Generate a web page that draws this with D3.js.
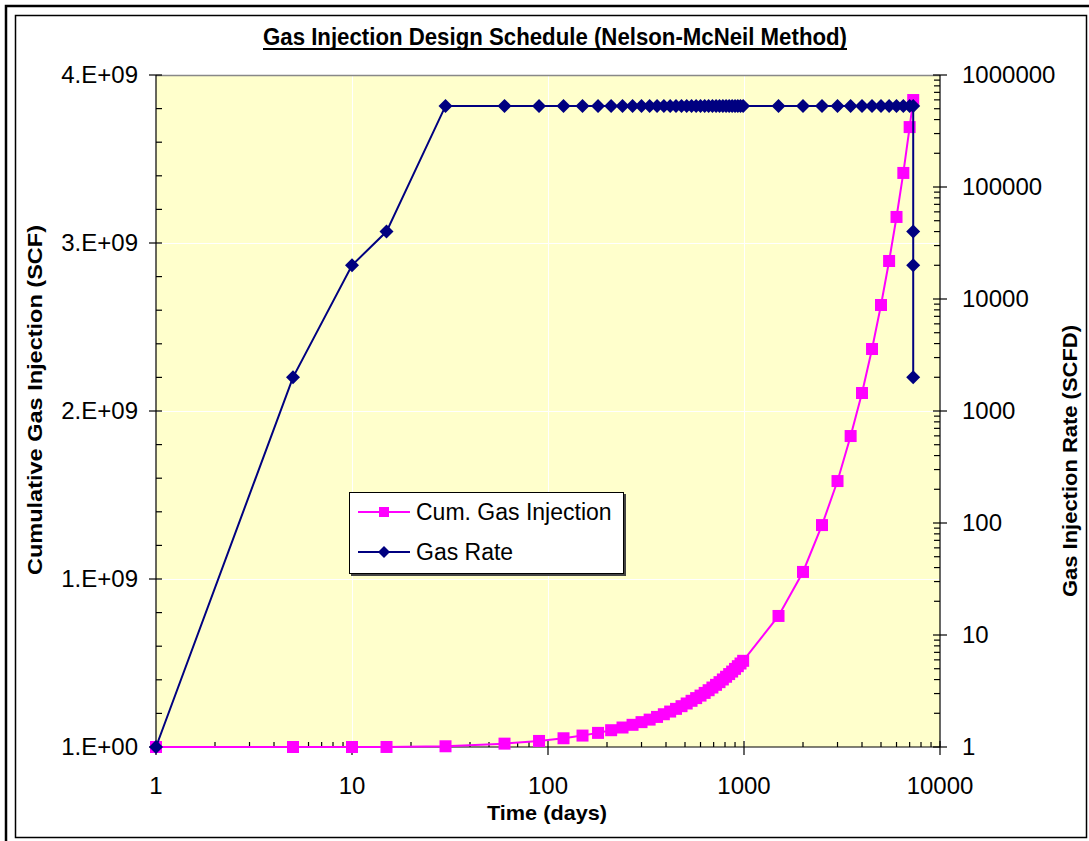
<!DOCTYPE html>
<html>
<head>
<meta charset="utf-8">
<script src="https://cdn.jsdelivr.net/npm/d3@7"></script>
<style>
  body { margin: 0; background: #fff; }
  svg { display: block; font-family: "Liberation Sans", Arial, sans-serif; }
</style>
</head>
<body>
<div class="canvas"></div>
<script>
// time (days) for the cumulative series
const cumTimes = [1, 5, 10, 15, 30, 60, 90, 120, 150, 180, 210, 240, 270, 300, 330, 360, 390, 420, 450,
  480, 510, 540, 570, 600, 630, 660, 690, 720, 750, 780, 810, 840, 870, 900, 930, 960, 990,
  1500, 2000, 2500, 3000, 3500, 4000, 4500, 5000, 5500, 6000, 6500, 7000, 7300];
// cumulative gas injection (SCF)
const cumGas = [1, 4000, 59000, 210000, 4.3e6, 2.0e7, 3.6e7, 5.2e7, 6.8e7, 8.4e7, 1.00e8, 1.16e8, 1.32e8,
  1.48e8, 1.63e8, 1.79e8, 1.95e8, 2.11e8, 2.27e8, 2.43e8, 2.59e8, 2.75e8, 2.91e8, 3.06e8, 3.22e8,
  3.38e8, 3.54e8, 3.70e8, 3.86e8, 4.02e8, 4.18e8, 4.34e8, 4.49e8, 4.65e8, 4.81e8, 4.97e8, 5.13e8,
  7.80e8, 1.042e9, 1.321e9, 1.583e9, 1.851e9, 2.107e9, 2.369e9, 2.631e9, 2.893e9, 3.155e9, 3.417e9,
  3.690e9, 3.851e9];

// time (days) for the rate series (ramp down at the end)
const rateTimes = [1, 5, 10, 15, 30, 60, 90, 120, 150, 180, 210, 240, 270, 300, 330, 360, 390, 420, 450,
  480, 510, 540, 570, 600, 630, 660, 690, 720, 750, 780, 810, 840, 870, 900, 930, 960, 990,
  1500, 2000, 2500, 3000, 3500, 4000, 4500, 5000, 5500, 6000, 6500, 7000, 7300, 7300, 7300, 7300];
// gas injection rate (SCFD)
const gasRate = [1, 2000, 20000, 40000, 530000, 530000, 530000, 530000, 530000, 530000, 530000, 530000,
  530000, 530000, 530000, 530000, 530000, 530000, 530000, 530000, 530000, 530000, 530000, 530000,
  530000, 530000, 530000, 530000, 530000, 530000, 530000, 530000, 530000, 530000, 530000, 530000,
  530000, 530000, 530000, 530000, 530000, 530000, 530000, 530000, 530000, 530000, 530000, 530000,
  530000, 530000, 40000, 20000, 2000];

const xTicks = [1, 10, 100, 1000, 10000];
const leftTicks = [1, 1e9, 2e9, 3e9, 4e9];
const rightTicks = [1, 10, 100, 1000, 10000, 100000, 1000000];
const seriesNames = ['Cum. Gas Injection', 'Gas Rate'];

const W = 1089, H = 841;
const plot = { left: 156, right: 940, top: 75, bottom: 747 };

const svg = d3.select('.canvas').append('svg')
  .attr('width', W)
  .attr('height', H);

// frames
svg.append('rect')
  .attr('x', 6).attr('y', 6).attr('width', 1200).attr('height', 1200)
  .attr('fill', 'none').attr('stroke', '#000').attr('stroke-width', 2.5);
svg.append('rect')
  .attr('x', 15.5).attr('y', 15.5).attr('width', 1071).attr('height', 822)
  .attr('fill', '#fff').attr('stroke', '#000').attr('stroke-width', 1.5);

// scales
const x = d3.scaleLog().domain([1, 10000]).range([plot.left, plot.right]);
const yL = d3.scaleLinear().domain([1, 4e9]).range([plot.bottom, plot.top]);
const yR = d3.scaleLog().domain([1, 1e6]).range([plot.bottom, plot.top]);

// plot area
svg.append('rect')
  .attr('x', plot.left).attr('y', plot.top)
  .attr('width', plot.right - plot.left).attr('height', plot.bottom - plot.top)
  .attr('fill', '#FFFFCC');

// gridlines (white)
const grid = svg.append('g').attr('stroke', '#fff').attr('stroke-width', 1);
grid.selectAll('.hg')
  .data(leftTicks.slice(1, -1))
  .enter().append('line')
  .attr('x1', plot.left).attr('x2', plot.right)
  .attr('y1', d => Math.round(yL(d)) + 0.5).attr('y2', d => Math.round(yL(d)) + 0.5);
grid.selectAll('.vg')
  .data(xTicks.slice(1, -1))
  .enter().append('line')
  .attr('y1', plot.top).attr('y2', plot.bottom)
  .attr('x1', d => Math.round(x(d)) + 0.5).attr('x2', d => Math.round(x(d)) + 0.5);

svg.append('line')
  .attr('x1', plot.left).attr('x2', plot.right)
  .attr('y1', plot.top + 0.5).attr('y2', plot.top + 0.5)
  .attr('stroke', '#888').attr('stroke-width', 1.5);

// minor tick values
const logMinor = (lo, hi) => {
  const out = [];
  for (let e = lo; e < hi; e++) for (let m = 2; m <= 9; m++) out.push(m * Math.pow(10, e));
  return out;
};
const leftMinor = d3.range(2e8, 4e9, 2e8).filter(v => v % 1e9 !== 0);

const tickFont = 24;

// left axis
const gL = svg.append('g').attr('stroke', '#000').attr('stroke-width', 1.2);
gL.append('line').attr('x1', plot.left).attr('x2', plot.left).attr('y1', plot.top).attr('y2', plot.bottom);
gL.selectAll('.mj').data(leftTicks).enter().append('line')
  .attr('x1', plot.left - 7).attr('x2', plot.left + 6)
  .attr('y1', d => yL(d)).attr('y2', d => yL(d));
gL.selectAll('.mn').data(leftMinor).enter().append('line')
  .attr('x1', plot.left).attr('x2', plot.left + 6)
  .attr('y1', d => yL(d)).attr('y2', d => yL(d));

const fmtE = v => {
  const e = Math.floor(Math.log10(v));
  const m = Math.round(v / Math.pow(10, e));
  return m + '.E+' + String(e).padStart(2, '0');
};
svg.append('g').selectAll('text').data(leftTicks).enter().append('text')
  .attr('x', plot.left - 18).attr('y', d => yL(d) + 8)
  .attr('text-anchor', 'end').attr('font-size', tickFont)
  .text(fmtE);

// right axis
const gR = svg.append('g').attr('stroke', '#000').attr('stroke-width', 1.2);
gR.append('line').attr('x1', plot.right).attr('x2', plot.right).attr('y1', plot.top).attr('y2', plot.bottom);
gR.selectAll('.mj').data(rightTicks).enter().append('line')
  .attr('x1', plot.right - 7).attr('x2', plot.right + 7)
  .attr('y1', d => yR(d)).attr('y2', d => yR(d));
gR.selectAll('.mn').data(logMinor(0, 6)).enter().append('line')
  .attr('x1', plot.right - 6).attr('x2', plot.right)
  .attr('y1', d => yR(d)).attr('y2', d => yR(d));
svg.append('g').selectAll('text').data(rightTicks).enter().append('text')
  .attr('x', plot.right + 22).attr('y', d => yR(d) + 8)
  .attr('font-size', tickFont)
  .text(d => String(d));

// x axis
const gX = svg.append('g').attr('stroke', '#000').attr('stroke-width', 1.2);
gX.append('line').attr('x1', plot.left).attr('x2', plot.right).attr('y1', plot.bottom).attr('y2', plot.bottom);
gX.selectAll('.mj').data(xTicks).enter().append('line')
  .attr('x1', d => x(d)).attr('x2', d => x(d))
  .attr('y1', plot.bottom - 6).attr('y2', plot.bottom + 8);
gX.selectAll('.mn').data(logMinor(0, 4)).enter().append('line')
  .attr('x1', d => x(d)).attr('x2', d => x(d))
  .attr('y1', plot.bottom - 5).attr('y2', plot.bottom);
svg.append('g').selectAll('text').data(xTicks).enter().append('text')
  .attr('x', d => x(d)).attr('y', 794)
  .attr('text-anchor', 'middle').attr('font-size', tickFont)
  .text(d => String(d));

// series
const cumData = cumTimes.map((t, i) => ({ t, v: cumGas[i] }));
const rateData = rateTimes.map((t, i) => ({ t, v: gasRate[i] }));

const square = 'M-6,-6H6V6H-6Z';
const diamond = 'M0,-7L7,0L0,7L-7,0Z';

svg.append('path')
  .datum(cumData)
  .attr('fill', 'none').attr('stroke', '#FF00FF').attr('stroke-width', 2)
  .attr('d', d3.line().x(d => x(d.t)).y(d => yL(d.v)));
svg.append('g').selectAll('path').data(cumData).enter().append('path')
  .attr('d', square).attr('fill', '#FF00FF')
  .attr('transform', d => `translate(${x(d.t)},${yL(d.v)})`);

svg.append('path')
  .datum(rateData)
  .attr('fill', 'none').attr('stroke', '#000080').attr('stroke-width', 2)
  .attr('d', d3.line().x(d => x(d.t)).y(d => yR(d.v)));
svg.append('g').selectAll('path').data(rateData).enter().append('path')
  .attr('d', diamond).attr('fill', '#000080')
  .attr('transform', d => `translate(${x(d.t)},${yR(d.v)})`);

// legend
const lg = svg.append('g');
lg.append('rect').attr('x', 351).attr('y', 494).attr('width', 275).attr('height', 82).attr('fill', '#444');
lg.append('rect').attr('x', 349.5).attr('y', 492.5).attr('width', 274).attr('height', 81)
  .attr('fill', '#fff').attr('stroke', '#000').attr('stroke-width', 1);
const legColors = ['#FF00FF', '#000080'];
const legShapes = ['M-5,-5H5V5H-5Z', 'M0,-6L6,0L0,6L-6,0Z'];
seriesNames.forEach((name, i) => {
  const cy = 512 + i * 40;
  lg.append('line').attr('x1', 358).attr('x2', 410).attr('y1', cy).attr('y2', cy)
    .attr('stroke', legColors[i]).attr('stroke-width', 2);
  lg.append('path').attr('d', legShapes[i]).attr('fill', legColors[i])
    .attr('transform', `translate(384,${cy})`);
  lg.append('text').attr('x', 416).attr('y', cy + 8).attr('font-size', 23).text(name);
});

// titles
const title = svg.append('text')
  .attr('x', 555).attr('y', 45).attr('text-anchor', 'middle')
  .attr('font-size', 23).attr('font-weight', 'bold')
  .attr('textLength', 584).attr('lengthAdjust', 'spacingAndGlyphs')
  .text('Gas Injection Design Schedule (Nelson-McNeil Method)');
svg.append('line').attr('x1', 263).attr('x2', 847).attr('y1', 49).attr('y2', 49)
  .attr('stroke', '#000').attr('stroke-width', 2);

svg.append('text')
  .attr('transform', 'translate(42,400) rotate(-90)')
  .attr('text-anchor', 'middle').attr('font-size', 21).attr('font-weight', 'bold')
  .attr('textLength', 350).attr('lengthAdjust', 'spacingAndGlyphs')
  .text('Cumulative Gas Injection (SCF)');

svg.append('text')
  .attr('transform', 'translate(1077,461) rotate(-90)')
  .attr('text-anchor', 'middle').attr('font-size', 21).attr('font-weight', 'bold')
  .attr('textLength', 272).attr('lengthAdjust', 'spacingAndGlyphs')
  .text('Gas Injection Rate (SCFD)');

svg.append('text')
  .attr('x', 547).attr('y', 820).attr('text-anchor', 'middle')
  .attr('font-size', 21).attr('font-weight', 'bold')
  .attr('textLength', 120).attr('lengthAdjust', 'spacingAndGlyphs')
  .text('Time (days)');
</script>
</body>
</html>
